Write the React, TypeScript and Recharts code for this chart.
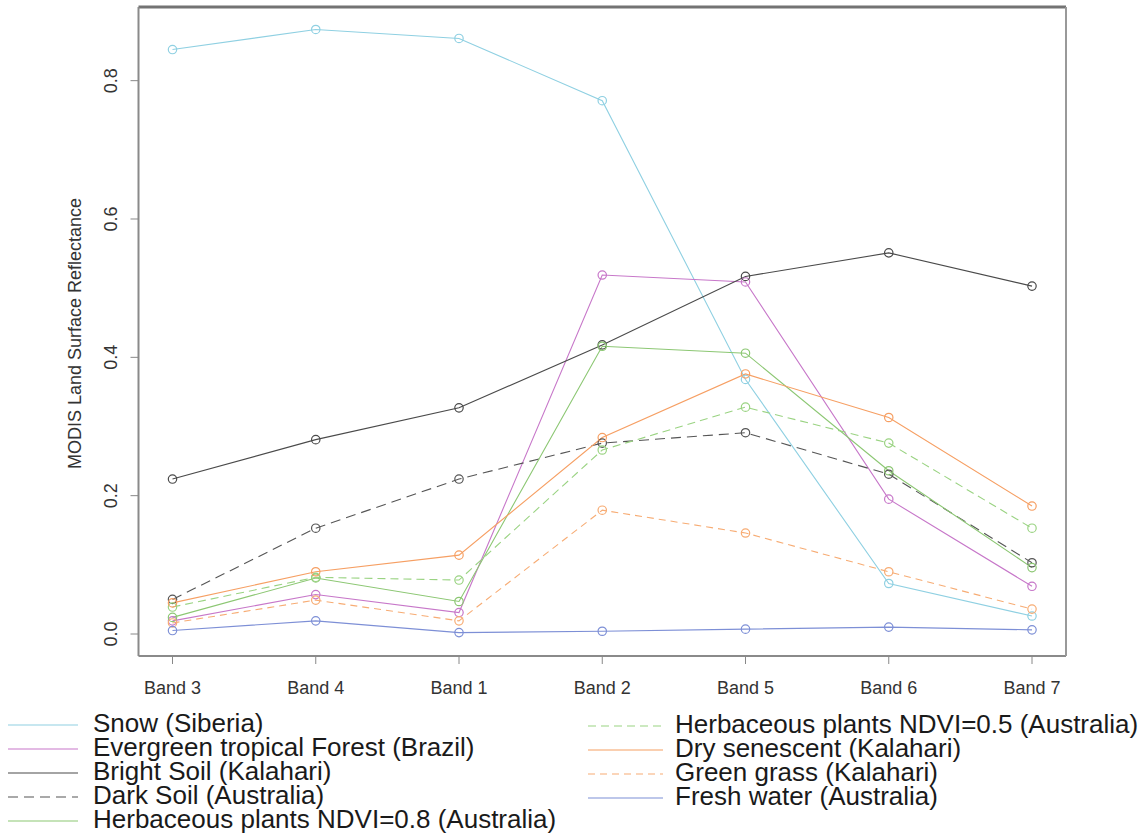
import { LineChart, Line, XAxis, YAxis, Legend } from 'recharts'

// MODIS bands in display order
const bands = ['Band 3', 'Band 4', 'Band 1', 'Band 2', 'Band 5', 'Band 6', 'Band 7']

const snow = [0.845, 0.874, 0.861, 0.771, 0.368, 0.073, 0.026]
const evergreen = [0.019, 0.057, 0.031, 0.519, 0.509, 0.195, 0.069]
const brightSoil = [0.224, 0.281, 0.327, 0.418, 0.517, 0.551, 0.503]
const darkSoil = [0.05, 0.153, 0.224, 0.276, 0.291, 0.231, 0.103]
const herb08 = [0.024, 0.081, 0.047, 0.416, 0.406, 0.236, 0.096]
const herb05 = [0.039, 0.082, 0.078, 0.266, 0.328, 0.276, 0.153]
const drySenescent = [0.045, 0.09, 0.114, 0.284, 0.376, 0.313, 0.185]
const greenGrass = [0.016, 0.049, 0.019, 0.179, 0.146, 0.09, 0.036]
const freshWater = [0.005, 0.019, 0.002, 0.004, 0.007, 0.01, 0.006]

const yTicks = [0, 0.2, 0.4, 0.6, 0.8]

const series = [
  { key: 'snow', name: 'Snow (Siberia)', values: snow, color: '#8fd0e2', dash: undefined },
  { key: 'evergreen', name: 'Evergreen tropical Forest (Brazil)', values: evergreen, color: '#c777c9', dash: undefined },
  { key: 'brightSoil', name: 'Bright Soil (Kalahari)', values: brightSoil, color: '#4a4a4a', dash: undefined },
  { key: 'darkSoil', name: 'Dark Soil (Australia)', values: darkSoil, color: '#555555', dash: '10 6' },
  { key: 'herb08', name: 'Herbaceous plants NDVI=0.8 (Australia)', values: herb08, color: '#8cc773', dash: undefined },
  { key: 'herb05', name: 'Herbaceous plants NDVI=0.5 (Australia)', values: herb05, color: '#9ad382', dash: '8 5' },
  { key: 'drySenescent', name: 'Dry senescent (Kalahari)', values: drySenescent, color: '#f69f63', dash: undefined },
  { key: 'greenGrass', name: 'Green grass (Kalahari)', values: greenGrass, color: '#f7ac74', dash: '7 5' },
  { key: 'freshWater', name: 'Fresh water (Australia)', values: freshWater, color: '#7d8fd6', dash: undefined },
]

const data = bands.map((band, i) => {
  const row: Record<string, string | number> = { band }
  series.forEach(s => { row[s.key] = s.values[i] })
  return row
})

const axisFont = '"Liberation Sans", Arial, sans-serif'
const domain = [-0.0318, 0.9065]

const XTick = (props: any) => (
  <text x={props.x} y={props.y + 28} textAnchor="middle" fontFamily={axisFont} fontSize={18} fill="#333">
    {props.payload.value}
  </text>
)

const YTick = (props: any) => (
  <text
    transform={`translate(${props.x - 12}, ${props.y}) rotate(-90)`}
    textAnchor="middle"
    fontFamily={axisFont}
    fontSize={18}
    fill="#333"
  >
    {props.payload.value.toFixed(1)}
  </text>
)

const YTitle = (props: any) => {
  const { x, y, height } = props.viewBox
  return (
    <text
      transform={`translate(${x + 81}, ${y + height / 2 + 2}) rotate(-90)`}
      textAnchor="middle"
      fontFamily={axisFont}
      fontSize={18}
      fill="#333"
    >
      MODIS Land  Surface  Reflectance
    </text>
  )
}

const RDot = (color: string) => (props: any) => {
  if (props.cx == null || props.cy == null) return null
  return <circle key={props.index} cx={props.cx} cy={props.cy} r={4.2} fill="none" stroke={color} strokeWidth={1.2} />
}

const legendLeft = series.slice(0, 5)
const legendRight = series.slice(5)
const rowBase = [32, 56, 80, 104, 128]

const LegendBox = () => (
  <svg width={1145} height={134}>
    {legendLeft.map((s, i) => (
      <g key={s.key}>
        <line x1={8} x2={78} y1={rowBase[i] - 7} y2={rowBase[i] - 7} stroke={s.color} strokeWidth={1.2} strokeDasharray={s.dash} />
        <text x={93} y={rowBase[i]} fontFamily={axisFont} fontSize={26} fill="#1a1a1a">{s.name}</text>
      </g>
    ))}
    {legendRight.map((s, i) => (
      <g key={s.key}>
        <line x1={588} x2={663} y1={rowBase[i] - 6} y2={rowBase[i] - 6} stroke={s.color} strokeWidth={1.2} strokeDasharray={s.dash} />
        <text x={675} y={rowBase[i] + 1} fontFamily={axisFont} fontSize={26} fill="#1a1a1a">{s.name}</text>
      </g>
    ))}
  </svg>
)

export default function App() {
  return (
    <div style={{ background: '#fff' }}>
      <style>{'body{margin:0}'}</style>
      <LineChart width={1145} height={834} data={data} margin={{ top: 6, right: 78, bottom: 0, left: 0 }}>
        <XAxis
          dataKey="band"
          height={178}
          padding={{ left: 34, right: 34 }}
          axisLine={{ stroke: '#8a8a8a', strokeWidth: 2 }}
          tickLine={{ stroke: '#888' }}
          tickSize={8}
          tick={XTick}
          interval={0}
        />
        <XAxis
          xAxisId="top"
          dataKey="band"
          orientation="top"
          height={1}
          padding={{ left: 34, right: 34 }}
          axisLine={{ stroke: '#737373', strokeWidth: 3 }}
          tick={false}
          tickLine={false}
        />
        <YAxis
          width={138.5}
          domain={domain}
          ticks={yTicks}
          allowDataOverflow
          axisLine={{ stroke: '#8a8a8a', strokeWidth: 2 }}
          tickLine={{ stroke: '#888' }}
          tickSize={8}
          tick={YTick}
          label={<YTitle />}
        />
        <YAxis
          yAxisId="right"
          orientation="right"
          width={1}
          domain={domain}
          allowDataOverflow
          axisLine={{ stroke: '#999', strokeWidth: 2 }}
          tick={false}
          tickLine={false}
        />
        <Legend
          layout="horizontal"
          verticalAlign="middle"
          align="center"
          content={LegendBox}
          wrapperStyle={{ left: 0, top: 700, width: 1145, height: 134 }}
        />
        {series.map(s => (
          <Line
            key={s.key}
            dataKey={s.key}
            name={s.name}
            type="linear"
            stroke={s.color}
            strokeWidth={1.1}
            strokeDasharray={s.dash}
            dot={RDot(s.color)}
            activeDot={false}
            isAnimationActive={false}
          />
        ))}
      </LineChart>
    </div>
  )
}
